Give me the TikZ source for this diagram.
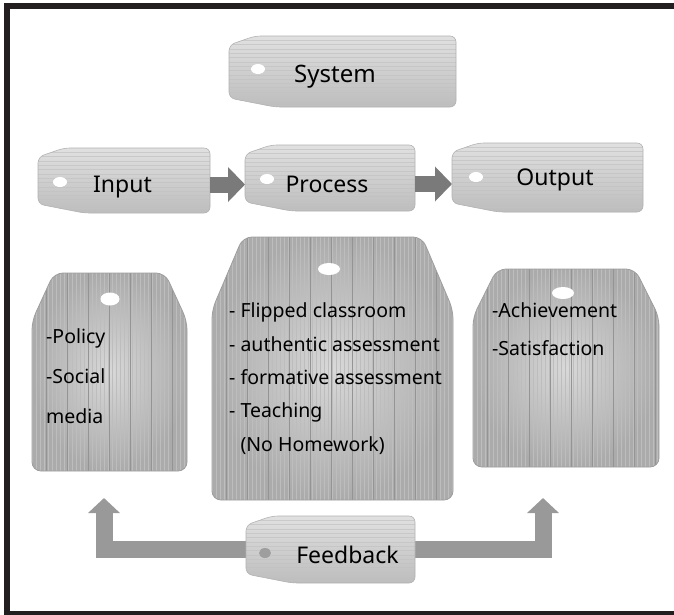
\documentclass[tikz,border=0pt]{standalone}
\usepackage{fontspec}
\setmainfont{Noto Sans}
\usetikzlibrary{arrows.meta}
\definecolor{framec}{HTML}{231F20}
\newcommand\htagpath[1]{([xshift=80pt]#1.north west) -- (#1.north east) -- (#1.south east) -- ([xshift=46pt]#1.south west) -- ([yshift=9pt]#1.south west) -- ([yshift=-9pt]#1.north west) -- ([xshift=26pt]#1.north west) -- cycle}
\newcommand\cardpath[3]{(#1.north) -- ([xshift=-#2pt]#1.north east) -- ([yshift=-#3pt]#1.north east) -- (#1.south east) -- (#1.south west) -- ([yshift=-#3pt]#1.north west) -- ([xshift=#2pt]#1.north west) -- cycle}
\newcommand\drawhtag[1]{%
  \shade[rounded corners=6pt, top color=black!12, bottom color=black!26] \htagpath{#1};
  \path[rounded corners=6pt, path picture={\foreach \k in {1,...,18}{\draw[black!24, line width=0.3pt, opacity=0.7] ([yshift=-\k*4.3pt]path picture bounding box.north west) -- ([yshift=-\k*4.3pt]path picture bounding box.north east);}}] \htagpath{#1};
  \draw[rounded corners=6pt, black!30, line width=0.6pt] \htagpath{#1};}
\newcommand\drawcard[3]{%
  \shade[rounded corners=9pt, inner color=black!15, outer color=black!33] \cardpath{#1}{#2}{#3};
  \path[rounded corners=9pt, path picture={\foreach \k in {0,...,62}{\draw[black!26, line width=0.3pt] ([xshift=\k*4pt]path picture bounding box.north west) -- ([xshift=\k*4pt]path picture bounding box.south west);}\foreach \k in {1,...,12}{\draw[black!42, line width=0.55pt] ([xshift=\k*21pt-7pt]path picture bounding box.north west) -- ([xshift=\k*21pt-7pt]path picture bounding box.south west);}}] \cardpath{#1}{#2}{#3};
  \draw[rounded corners=9pt, black!38, line width=0.8pt] \cardpath{#1}{#2}{#3};}
\begin{document}
\begin{tikzpicture}[x=1pt,y=-1pt,
  box/.style={inner sep=0pt, outer sep=0pt, draw=none},
  lbl/.style={font=\fontsize{23}{27}\selectfont, anchor=base, inner sep=0pt},
  ctext/.style={font=\fontsize{19.5}{24}\selectfont, anchor=base west, inner sep=0pt},
  hole/.style={fill=white},
  fatarrow/.style={line width=16pt, black!52, -{Triangle[width=34pt,length=17pt]}},
  fbarrow/.style={line width=17pt, black!40, line join=miter, -{Triangle[width=31pt,length=15pt]}}]
\useasboundingbox (0,0) rectangle (674,614);
\fill[white] (0,0) rectangle (674,614);
\draw[framec, line width=6pt] (6.5,6) rectangle (700,614);
% invisible frames of tags and cards
\node[box, minimum width=227pt, minimum height=71pt] (system) at (342.5,71.5) {};
\node[box, minimum width=172pt, minimum height=65pt] (input) at (124,180.5) {};
\node[box, minimum width=170pt, minimum height=66pt] (process) at (330,178) {};
\node[box, minimum width=191pt, minimum height=69pt] (output) at (547.5,177.5) {};
\node[box, minimum width=169pt, minimum height=67pt] (feedback) at (330.5,549.5) {};
\node[box, minimum width=155pt, minimum height=198pt] (incard) at (109.5,372) {};
\node[box, minimum width=241pt, minimum height=263pt] (proccard) at (332.5,368.5) {};
\node[box, minimum width=186pt, minimum height=198pt] (outcard) at (566,368) {};
% feedback arrows
\coordinate (fbL) at (104,498);
\coordinate (fbR) at (543,498);
\draw[fbarrow] (feedback.west) -| (fbL);
\draw[fbarrow] (feedback.east) -| (fbR);
% shapes
\drawhtag{system}
\drawhtag{input}
\drawhtag{process}
\drawhtag{output}
\drawhtag{feedback}
\drawcard{incard}{22}{48}
\drawcard{proccard}{31}{73}
\drawcard{outcard}{24}{48}
% arrows between tags
\coordinate (a1) at ([yshift=-4pt]input.east);
\coordinate (a2) at ([yshift=-6pt]process.east);
\draw[fatarrow] (a1) -- (a1 -| process.west);
\draw[fatarrow] (a2) -- (a2 -| output.west);
% holes
\fill[hole] (258,69) ellipse [x radius=7pt, y radius=5pt];
\fill[hole] (60,182) ellipse [x radius=7pt, y radius=5pt];
\fill[hole] (267,179) ellipse [x radius=7pt, y radius=5pt];
\fill[hole] (476,177) ellipse [x radius=7pt, y radius=5pt];
\fill[black!38] (265,553) ellipse [x radius=6pt, y radius=5pt];
\fill[hole] (110,299) ellipse [x radius=9.5pt, y radius=6.5pt];
\fill[hole] (329,269) ellipse [x radius=11pt, y radius=6pt];
\fill[hole] (563,293) ellipse [x radius=11pt, y radius=6pt];
% labels
\node[lbl, font=\fontsize{24}{28}\selectfont] (tsystem) at (335,82) {System};
\node[lbl] (tinput) at (122.5,192) {Input};
\node[lbl] (tprocess) at (327,192) {Process};
\node[lbl] (toutput) at (555,185) {Output};
\node[lbl] (tfeedback) at (347.5,563) {Feedback};
% card texts
\node[ctext] (i1) at (46,343) {-Policy};
\node[ctext] (i2) at (46,383) {-Social};
\node[ctext] (i3) at (46,423) {media};
\node[ctext] (p1) at (229,317) {- Flipped classroom};
\node[ctext] (p2) at (229,351) {- authentic assessment};
\node[ctext] (p3) at (229,384) {- formative assessment};
\node[ctext] (p4) at (229,417) {- Teaching};
\node[ctext] (p5) at (229,451) {\phantom{- }(No Homework)};
\node[ctext] (o1) at (492,317) {-Achievement};
\node[ctext] (o2) at (492,355) {-Satisfaction};
\end{tikzpicture}
\end{document}
